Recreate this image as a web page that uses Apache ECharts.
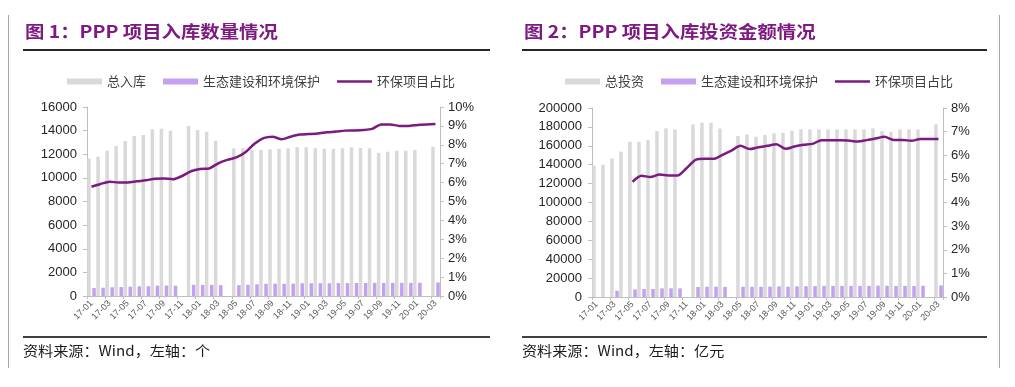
<!DOCTYPE html>
<html><head><meta charset="utf-8">
<script src="https://cdn.jsdelivr.net/npm/echarts@6/dist/echarts.min.js"></script>
<style>html,body{margin:0;padding:0;background:#fff}#c{width:1015px;height:387px}</style>
</head><body><div id="c"></div>
<script>
const months = ['17-01','17-02','17-03','17-04','17-05','17-06','17-07','17-08','17-09','17-10','17-11','17-12',
  '18-01','18-02','18-03','18-04','18-05','18-06','18-07','18-08','18-09','18-10','18-11','18-12',
  '19-01','19-02','19-03','19-04','19-05','19-06','19-07','19-08','19-09','19-10','19-11','19-12',
  '20-01','20-02','20-03'];

// 图1：项目入库数量（个）
const countTotal = [11650,11800,12300,12700,13120,13540,13630,14110,14150,14000,null,14390,
  14050,13910,13150,null,12500,12500,12360,12360,12415,12470,12500,12590,
  12590,12500,12470,12470,12500,12590,12530,12500,12130,12220,12300,12300,
  12360,null,12640];
const countEco = [670,700,740,760,790,820,830,880,880,870,null,950,
  940,940,920,null,920,950,990,1030,1050,1030,1050,1080,
  1080,1080,1080,1090,1090,1100,1100,1110,1100,1110,1110,1110,
  1120,null,1150];
const countRatio = [5.78,5.93,6.05,6.0,6.0,6.07,6.12,6.21,6.22,6.18,6.35,6.6,
  6.72,6.75,7.02,7.2,7.33,7.6,8.05,8.35,8.43,8.29,8.43,8.54,
  8.57,8.6,8.66,8.7,8.75,8.76,8.78,8.84,9.08,9.08,9.0,9.0,
  9.05,9.08,9.1];

// 图2：项目入库投资金额（亿元）
const invTotal = [139000,140000,146700,153800,164300,164300,166100,175600,178400,177400,null,182700,
  184400,184400,178400,null,170300,172100,169600,171400,173200,173900,176000,177400,
  177400,177400,177400,177400,177400,177400,177400,178500,175600,174900,177400,177400,
  177400,null,182700];
const invEco = [null,null,6500,null,8000,8400,8400,9100,9200,9100,null,10600,
  10800,10800,10700,null,10900,10800,10800,11000,11200,10900,11200,11400,
  11500,11800,11800,11800,11700,11700,11800,12000,11900,11600,11800,11700,
  11900,null,12200];
const invRatio = [null,null,null,null,4.88,5.13,5.08,5.18,5.14,5.14,5.45,5.8,
  5.85,5.85,6.02,6.2,6.4,6.26,6.34,6.4,6.47,6.27,6.37,6.44,
  6.48,6.64,6.64,6.64,6.62,6.58,6.64,6.71,6.78,6.65,6.65,6.61,
  6.69,6.69,6.69];

const titles = ['图 1：PPP 项目入库数量情况', '图 2：PPP 项目入库投资金额情况'];
const notes = ['资料来源：Wind，左轴：个', '资料来源：Wind，左轴：亿元'];
const totalNames = ['总入库', '总投资'];
const ecoName = '生态建设和环境保护';
const ratioName = '环保项目占比';

const GRAY = '#D9D9D9', LAV = '#C4A0F0', PURP = '#7A1B80';
const CJK = 'Noto Sans CJK SC';
const LAT = 'Liberation Sans';

const chart = echarts.init(document.getElementById('c'), null, {renderer: 'canvas'});

function xAx(g) {
  return {
    type: 'category', gridIndex: g, data: months, boundaryGap: true,
    axisLine: {lineStyle: {color: '#BFBFBF'}},
    axisTick: {show: true, interval: 1, length: 3, lineStyle: {color: '#BFBFBF'}},
    axisLabel: {interval: 1, rotate: 45, fontSize: 9, color: '#595959', fontFamily: LAT, margin: 6}
  };
}
function yAx(g, pos, max, interval, pct) {
  return {
    type: 'value', gridIndex: g, position: pos, min: 0, max: max, interval: interval,
    splitLine: {show: false},
    axisLine: {show: true, lineStyle: {color: '#BFBFBF'}},
    axisTick: {show: true, length: 4, lineStyle: {color: '#BFBFBF'}},
    axisLabel: {fontSize: 13, color: '#262626', fontFamily: LAT, margin: pos === 'left' ? 10 : 8,
      formatter: v => pct ? v + '%' : String(v)}
  };
}
function barS(name, data, color, xi, yi) {
  return {type: 'bar', name: name, data: data, xAxisIndex: xi, yAxisIndex: yi,
    barWidth: 3.5, barGap: '45%', itemStyle: {color: color}, animation: false};
}
function lineS(data, xi, yi) {
  return {type: 'line', name: ratioName, data: data, xAxisIndex: xi, yAxisIndex: yi,
    symbol: 'none', smooth: 0.25, connectNulls: false,
    lineStyle: {color: PURP, width: 2.5}, itemStyle: {color: PURP}, animation: false};
}
function legend(left, total) {
  return {
    left: left, top: 70, itemWidth: 35, itemHeight: 6, itemGap: 17,
    textStyle: {fontSize: 13, color: '#404040', fontFamily: CJK},
    data: [
      {name: total, icon: 'rect'},
      {name: ecoName, icon: 'rect'},
      {name: ratioName, icon: 'path://M0,0L35,0L35,2.6L0,2.6Z'}
    ],
    selectedMode: false
  };
}

const graphics = [];
const panels = [{x0: 23, x1: 490, tx: 25}, {x0: 522, x1: 987, tx: 524}];
panels.forEach((p, i) => {
  graphics.push({type: 'text', x: p.tx, y: 23, scaleX: 1.14, style: {text: titles[i], fill: '#7E1A82',
    font: 'bold 17px "' + CJK + '"'}});
  graphics.push({type: 'line', shape: {x1: p.x0, y1: 50, x2: p.x1, y2: 50}, style: {stroke: '#262626', lineWidth: 2}});
  graphics.push({type: 'line', shape: {x1: p.x0, y1: 337, x2: p.x1, y2: 337}, style: {stroke: '#404040', lineWidth: 2}});
  graphics.push({type: 'text', x: p.tx - 2, y: 344, scaleX: 1.08, style: {text: notes[i], fill: '#1a1a1a',
    font: '14px "' + CJK + '"'}});
});
graphics.push({type: 'line', shape: {x1: 8.5, y1: 15, x2: 8.5, y2: 368}, style: {stroke: '#A6A6A6', lineWidth: 1}});
graphics.push({type: 'line', shape: {x1: 999.5, y1: 15, x2: 999.5, y2: 368}, style: {stroke: '#A6A6A6', lineWidth: 1}});

chart.setOption({
  backgroundColor: '#fff',
  animation: false,
  textStyle: {fontFamily: LAT},
  graphic: graphics,
  legend: [legend(62, totalNames[0]), legend(560, totalNames[1])],
  grid: [
    {left: 87, right: 575, top: 107, bottom: 91},
    {left: 592, right: 72, top: 108, bottom: 90}
  ],
  xAxis: [xAx(0), xAx(1)],
  yAxis: [
    yAx(0, 'left', 16000, 2000, false),
    yAx(0, 'right', 10, 1, true),
    yAx(1, 'left', 200000, 20000, false),
    yAx(1, 'right', 8, 1, true)
  ],
  series: [
    barS(totalNames[0], countTotal, GRAY, 0, 0),
    barS(ecoName, countEco, LAV, 0, 0),
    lineS(countRatio, 0, 1),
    barS(totalNames[1], invTotal, GRAY, 1, 2),
    barS(ecoName, invEco, LAV, 1, 2),
    lineS(invRatio, 1, 3)
  ]
});
</script></body></html>
